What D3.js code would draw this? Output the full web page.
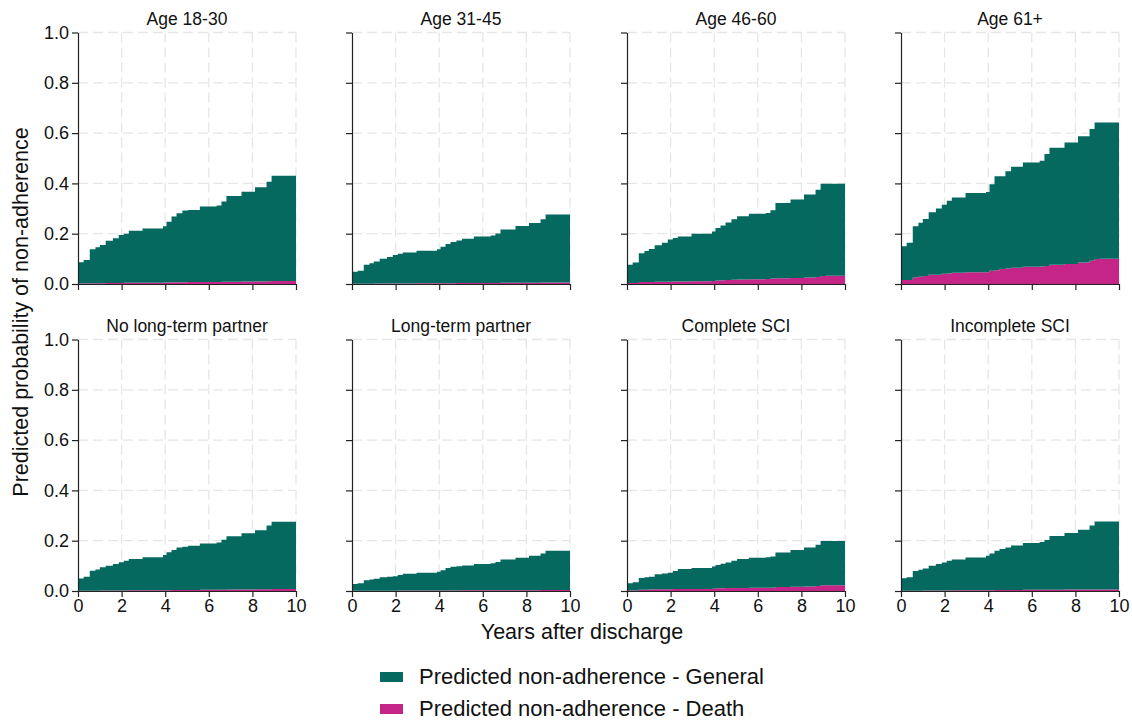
<!DOCTYPE html>
<html><head><meta charset="utf-8">
<script src="https://cdn.jsdelivr.net/npm/d3@7"></script>
<style>body{margin:0;background:#fff;font-family:"Liberation Sans",Arial,sans-serif;}</style>
</head><body><svg id="chart" width="1132" height="721"></svg>
<script>
const panelTitles = ["Age 18-30","Age 31-45","Age 46-60","Age 61+","No long-term partner","Long-term partner","Complete SCI","Incomplete SCI"];
const stepTimes = [0,0.26,0.54,0.8,1.0,1.27,1.6,1.87,2.1,2.33,2.96,3.9,4.06,4.29,4.52,4.79,5.05,5.59,6.36,6.58,6.81,7.5,8.12,8.65,8.88,9.11];
const endTime = 10;
const generalValues = [
  [0.084,0.093,0.135,0.143,0.152,0.168,0.178,0.191,0.195,0.207,0.216,0.224,0.242,0.261,0.274,0.285,0.286,0.300,0.304,0.319,0.341,0.357,0.375,0.396,0.418,0.418],
  [0.048,0.052,0.076,0.082,0.087,0.098,0.105,0.113,0.118,0.123,0.129,0.135,0.145,0.156,0.164,0.169,0.176,0.185,0.189,0.197,0.212,0.226,0.238,0.251,0.270,0.270],
  [0.073,0.081,0.114,0.123,0.131,0.145,0.155,0.168,0.173,0.179,0.189,0.197,0.209,0.218,0.229,0.240,0.251,0.260,0.262,0.271,0.299,0.312,0.330,0.347,0.367,0.366],
  [0.134,0.148,0.203,0.215,0.226,0.248,0.263,0.274,0.289,0.299,0.315,0.319,0.344,0.373,0.368,0.386,0.401,0.414,0.420,0.445,0.465,0.483,0.502,0.524,0.543,0.542],
  [0.049,0.056,0.080,0.084,0.092,0.098,0.105,0.112,0.118,0.124,0.131,0.140,0.151,0.159,0.169,0.172,0.176,0.184,0.188,0.199,0.212,0.224,0.235,0.253,0.267,0.267],
  [0.027,0.030,0.042,0.045,0.048,0.054,0.056,0.058,0.062,0.067,0.071,0.075,0.081,0.089,0.094,0.096,0.098,0.104,0.107,0.112,0.122,0.129,0.137,0.145,0.156,0.156],
  [0.029,0.033,0.047,0.050,0.051,0.060,0.063,0.066,0.072,0.079,0.083,0.088,0.092,0.097,0.101,0.108,0.115,0.119,0.121,0.124,0.137,0.146,0.155,0.164,0.176,0.176],
  [0.050,0.054,0.079,0.083,0.087,0.098,0.105,0.111,0.118,0.122,0.130,0.137,0.146,0.156,0.163,0.169,0.177,0.186,0.190,0.198,0.214,0.225,0.238,0.254,0.270,0.270]
];
const deathValues = [
  [0.002,0.002,0.003,0.003,0.003,0.004,0.004,0.004,0.005,0.005,0.005,0.006,0.006,0.007,0.007,0.007,0.008,0.008,0.008,0.009,0.009,0.010,0.010,0.011,0.012,0.012],
  [0.001,0.001,0.001,0.001,0.002,0.002,0.002,0.002,0.002,0.002,0.003,0.003,0.003,0.003,0.003,0.004,0.004,0.004,0.004,0.004,0.005,0.005,0.005,0.006,0.006,0.006],
  [0.004,0.004,0.008,0.008,0.008,0.009,0.009,0.009,0.010,0.010,0.011,0.012,0.014,0.015,0.016,0.017,0.018,0.019,0.020,0.022,0.023,0.024,0.026,0.028,0.032,0.033],
  [0.016,0.016,0.027,0.029,0.032,0.037,0.037,0.041,0.042,0.045,0.047,0.047,0.053,0.055,0.060,0.062,0.065,0.069,0.070,0.072,0.077,0.080,0.085,0.092,0.099,0.100],
  [0.001,0.001,0.001,0.001,0.002,0.002,0.002,0.002,0.002,0.003,0.003,0.003,0.003,0.004,0.004,0.004,0.004,0.005,0.005,0.005,0.006,0.006,0.007,0.007,0.008,0.008],
  [0.001,0.001,0.001,0.001,0.001,0.001,0.001,0.001,0.002,0.002,0.002,0.002,0.002,0.002,0.002,0.002,0.003,0.003,0.003,0.003,0.003,0.003,0.003,0.004,0.004,0.004],
  [0.002,0.002,0.005,0.005,0.006,0.007,0.007,0.007,0.008,0.008,0.008,0.009,0.011,0.011,0.012,0.012,0.012,0.013,0.013,0.013,0.016,0.017,0.018,0.020,0.023,0.023],
  [0.001,0.001,0.001,0.001,0.002,0.002,0.002,0.002,0.002,0.003,0.003,0.003,0.003,0.004,0.004,0.004,0.004,0.005,0.005,0.005,0.005,0.006,0.006,0.006,0.006,0.006]
];
const xTicks = [0,2,4,6,8,10];
const yTicks = [0,0.2,0.4,0.6,0.8,1.0];
const seriesNames = ["Predicted non-adherence - General","Predicted non-adherence - Death"];
const colors = {general:"#05695f", death:"#c42587"};

const svg = d3.select("#chart");
const font = '"Liberation Sans",Arial,sans-serif';
const colX = [78,352,627,901], pw = 218;
const rowY = [32.5,339.5], ph = 251.5;

panelTitles.forEach((title,i)=>{
  const col = i%4, row = Math.floor(i/4);
  const g = svg.append("g").attr("transform",`translate(${colX[col]},${rowY[row]})`);
  const x = d3.scaleLinear().domain([0,10]).range([0,pw]);
  const y = d3.scaleLinear().domain([0,1]).range([ph,0]);
  g.append("g").selectAll("line").data(xTicks.slice(1)).join("line")
    .attr("x1",d=>x(d)).attr("x2",d=>x(d)).attr("y1",0).attr("y2",ph)
    .attr("stroke","#e6e6e6").attr("stroke-width",1.3).attr("stroke-dasharray","10,5");
  g.append("g").selectAll("line").data(yTicks.slice(1)).join("line")
    .attr("x1",0).attr("x2",pw).attr("y1",d=>y(d)).attr("y2",d=>y(d))
    .attr("stroke","#e6e6e6").attr("stroke-width",1.3).attr("stroke-dasharray","10,5");
  const rows = stepTimes.map((t,k)=>({t, death:deathValues[i][k], general:generalValues[i][k]}));
  const last = rows[rows.length-1];
  rows.push({t:endTime, death:last.death, general:last.general});
  const stack = d3.stack().keys(["death","general"])(rows);
  const area = d3.area().curve(d3.curveStepAfter)
    .x(d=>x(d.data.t)).y0(d=>y(d[0])).y1(d=>y(d[1]));
  g.selectAll("path.layer").data(stack).join("path").attr("class","layer")
    .attr("d",area).attr("fill",d=>colors[d.key]);
  const ya = d3.axisLeft(y).tickValues(yTicks).tickSize(6).tickSizeOuter(0)
    .tickFormat(col===0? d3.format(".1f") : ()=>"");
  const yg = g.append("g").call(ya);
  const xa = d3.axisBottom(x).tickValues(xTicks).tickSize(6).tickSizeOuter(0)
    .tickFormat(row===1? d3.format("d") : ()=>"");
  const xg = g.append("g").attr("transform",`translate(0,${ph})`).call(xa);
  [yg,xg].forEach(a=>{
    a.select(".domain").attr("stroke","#222").attr("stroke-width",1.2);
    a.selectAll(".tick line").attr("stroke","#222").attr("stroke-width",1.2);
    a.selectAll(".tick text").attr("font-family",font).attr("font-size",18).attr("fill","#111");
  });
  yg.selectAll(".tick text").attr("x",-9);
  xg.selectAll(".tick text").attr("y",8);
  g.append("text").attr("x",pw/2).attr("y",-8).attr("text-anchor","middle")
    .attr("font-family",font).attr("font-size",17.5).attr("fill","#111").text(title);
});

svg.append("text").attr("x",582).attr("y",639).attr("text-anchor","middle")
  .attr("font-family",font).attr("font-size",21.5).attr("fill","#111").text("Years after discharge");
svg.append("text").attr("transform","translate(28,312) rotate(-90)").attr("text-anchor","middle")
  .attr("font-family",font).attr("font-size",21.5).attr("fill","#111").text("Predicted probability of non-adherence");

const leg = svg.append("g");
seriesNames.forEach((n,k)=>{
  leg.append("rect").attr("x",380).attr("y",672+k*32).attr("width",23).attr("height",10)
    .attr("fill",k===0?colors.general:colors.death);
  leg.append("text").attr("x",419).attr("y",684+k*32).attr("font-family",font)
    .attr("font-size",22).attr("fill","#111").text(n);
});
</script></body></html>
